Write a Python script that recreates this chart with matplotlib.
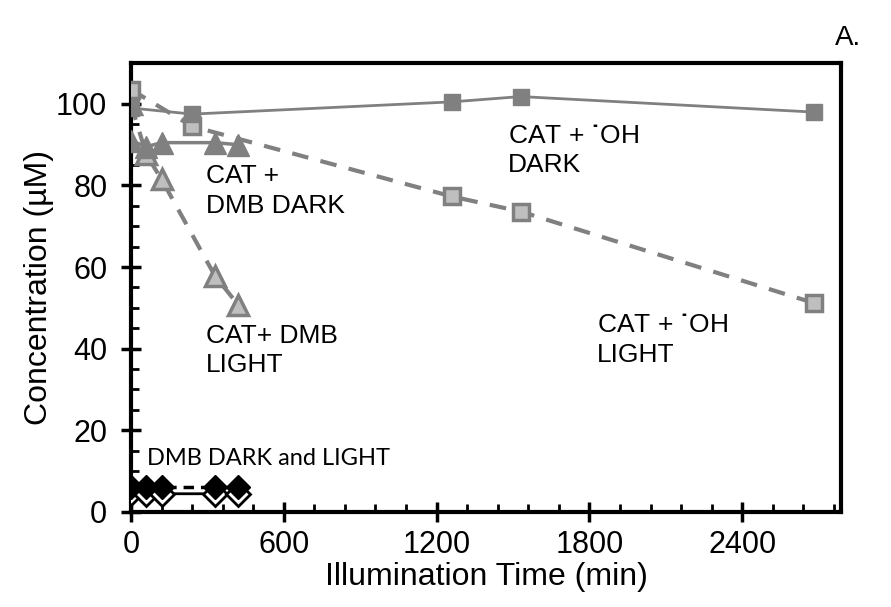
import matplotlib
matplotlib.use("Agg")
import matplotlib.pyplot as plt
from matplotlib.ticker import MultipleLocator

plt.rcParams['font.family'] = ['Liberation Sans', 'DejaVu Sans']
plt.rcParams['mathtext.fontset'] = 'custom'
plt.rcParams['mathtext.rm'] = 'Liberation Sans'
plt.rcParams['mathtext.bf'] = 'Liberation Sans:bold'

# Sampling times (min) and concentrations (uM)
t_oh = [0, 240, 1260, 1530, 2680]
cat_oh_dark = [99.0, 97.5, 100.5, 101.8, 98.0]
cat_oh_light = [103.5, 94.5, 77.3, 73.6, 51.2]

t_dmb = [0, 60, 120, 330, 420]
cat_dmb_dark = [91.0, 89.5, 90.5, 90.5, 90.0]
cat_dmb_light = [100.0, 87.6, 81.5, 57.8, 50.8]
dmb_dark = [6.0, 6.0, 6.0, 6.0, 6.0]
dmb_light = [4.5, 4.3, 4.4, 4.4, 4.3]

x_ticks = [0, 600, 1200, 1800, 2400]
y_ticks = [0, 20, 40, 60, 80, 100]

fig = plt.figure(figsize=(8.91, 6.07), dpi=100)
ax = fig.add_axes([0.147, 0.157, 0.797, 0.739])

dark = '#808080'
light = '#bfbfbf'

ax.plot(t_dmb, dmb_light, '-', color='black', lw=2, marker='D', ms=12,
        mfc='white', mec='black', mew=2, zorder=3)
ax.plot(t_dmb, dmb_dark, '--', color='black', lw=2.5, marker='D', ms=12,
        mfc='black', mec='black', zorder=4, dashes=(3, 2))

ax.plot(t_dmb, cat_dmb_light, '--', color=dark, lw=3, marker='^', ms=15,
        mfc=light, mec=dark, mew=2.5, zorder=3, dashes=(4, 3))
ax.plot(t_oh, cat_oh_light, '--', color=dark, lw=3, marker='s', ms=11,
        mfc=light, mec=dark, mew=2.5, zorder=3, dashes=(4, 3))
ax.plot(t_oh, cat_oh_dark, '-', color=dark, lw=2, marker='s', ms=12,
        mfc=dark, mec=dark, zorder=4)
ax.plot(t_dmb, cat_dmb_dark, '-', color=dark, lw=2.5, marker='^', ms=16,
        mfc=dark, mec=dark, zorder=4)

ax.set_xlim(0, 2788)
ax.set_ylim(0, 110)
ax.set_xticks(x_ticks)
ax.set_yticks(y_ticks)
ax.xaxis.set_minor_locator(MultipleLocator(120))
ax.yaxis.set_minor_locator(MultipleLocator(5))

for s in ax.spines.values():
    s.set_linewidth(3)
ax.tick_params(which='major', direction='inout', length=14, width=2.5,
               labelsize=22)
ax.tick_params(axis='x', which='major', pad=6)
ax.tick_params(axis='y', which='major', pad=10)
ax.tick_params(which='minor', direction='in', length=6, width=2)

ax.set_xlabel('Illumination Time (min)', fontsize=23)
ax.set_ylabel('Concentration (\u00b5M)', fontsize=23)
ax.xaxis.set_label_coords(0.5, -0.113)
ax.yaxis.set_label_coords(-0.108, 0.5)

radical = '$\\mathbf{\u02d9}$'
tk = dict(fontsize=19, va='baseline', ha='left', linespacing=1.3)
ax.text(294, 73.2, 'CAT +\nDMB DARK', **tk)
ax.text(294, 34.2, 'CAT+ DMB\nLIGHT', **tk)
ax.text(1480, 83.2, 'CAT + ' + radical + 'OH\nDARK', **tk)
ax.text(1830, 36.8, 'CAT + ' + radical + 'OH\nLIGHT', **tk)
ax.text(63, 11.4, 'DMB DARK and LIGHT', fontsize=17, va='baseline',
        ha='left', family=['Lato', 'DejaVu Sans'])
fig.text(0.937, 0.926, 'A.', fontsize=20, ha='left', va='baseline')

fig.savefig('out.png', dpi=100)
